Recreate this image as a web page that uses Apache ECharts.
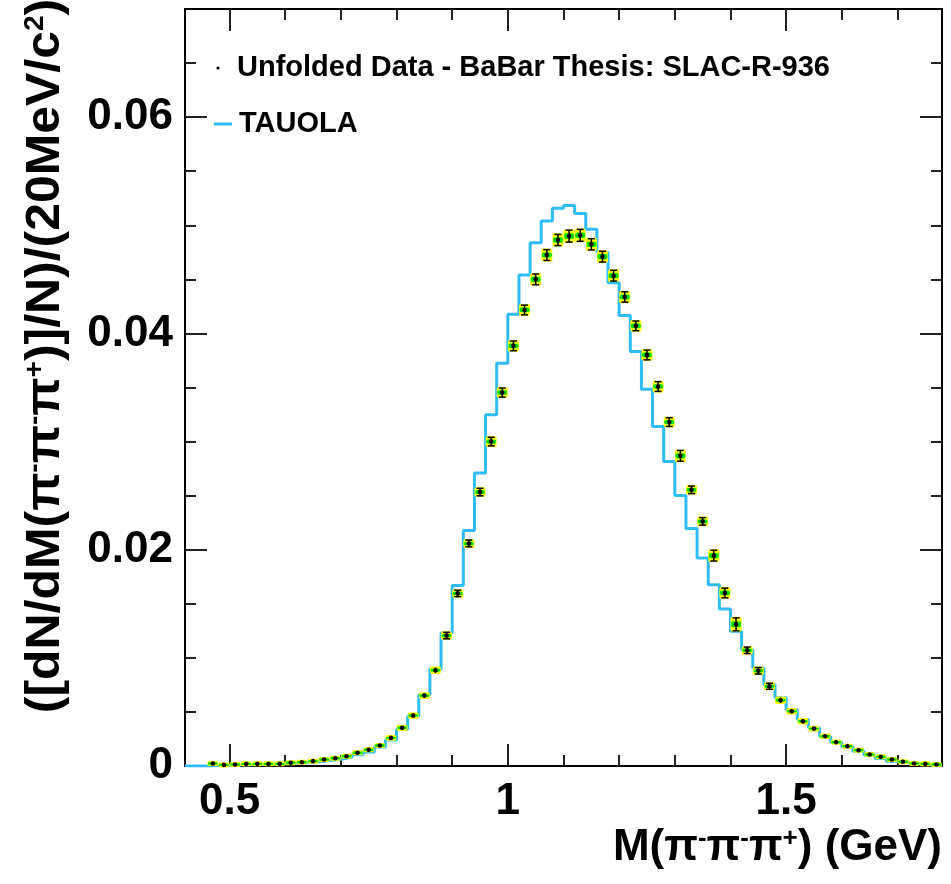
<!DOCTYPE html>
<html>
<head>
<meta charset="utf-8">
<script src="https://cdn.jsdelivr.net/npm/echarts@6/dist/echarts.min.js"></script>
<style>
  html, body { margin: 0; padding: 0; background: #fff; }
  #main { width: 951px; height: 884px; }
</style>
</head>
<body>
<div id="main"></div>
<script>
// unfolded data points (bin centres, 20 MeV bins)
var dataMass = [0.47,0.49,0.51,0.53,0.55,0.57,0.59,0.61,0.63,0.65,0.67,0.69,0.71,0.73,0.75,0.77,
  0.79,0.81,0.83,0.85,0.87,0.89,0.91,0.93,0.95,0.97,0.99,1.01,1.03,1.05,1.07,1.09,1.11,1.13,1.15,
  1.17,1.19,1.21,1.23,1.25,1.27,1.29,1.31,1.33,1.35,1.37,1.39,1.41,1.43,1.45,1.47,1.49,1.51,1.53,
  1.55,1.57,1.59,1.61,1.63,1.65,1.67,1.69,1.71,1.73,1.75,1.77];
var dataValues = [0.00023,0.00010,0.00014,0.00020,0.00020,0.00020,0.00020,0.00030,0.00035,0.00045,
  0.00060,0.00072,0.00090,0.00122,0.00150,0.00190,0.00260,0.00353,0.00467,0.00651,0.00885,0.01206,
  0.01596,0.02058,0.02533,0.03000,0.03453,0.03885,0.04217,0.04500,0.04725,0.04864,0.04900,0.04907,
  0.04824,0.04710,0.04534,0.04337,0.04070,0.03801,0.03509,0.03180,0.02868,0.02554,0.02262,0.01945,
  0.01600,0.01310,0.01070,0.00880,0.00737,0.00608,0.00506,0.00414,0.00346,0.00275,0.00220,0.00183,
  0.00146,0.00106,0.00085,0.00060,0.00039,0.00023,0.00020,0.00014];
var dataErrors = [0.0001,0.0001,0.0001,0.0001,0.0001,0.0001,0.0001,0.0001,0.0001,0.0001,0.0001,
  0.0001,0.0001,0.0001,0.0001,0.0001,0.00018,0.0002,0.0002,0.00022,0.00025,0.0003,0.0003,0.00032,
  0.00035,0.0004,0.00042,0.00045,0.00045,0.0005,0.0005,0.00052,0.00055,0.00055,0.00052,0.0005,
  0.0005,0.00048,0.00045,0.00045,0.00045,0.0004,0.0005,0.00035,0.00035,0.0005,0.00045,0.0006,
  0.0003,0.0003,0.00028,0.00025,0.0002,0.0002,0.00018,0.00016,0.00015,0.00014,0.00012,0.0001,
  0.0001,0.0001,0.0001,0.0001,0.0001,0.0001];

// TAUOLA histogram (lower bin edges)
var tauolaEdges = [0.42,0.44,0.46,0.48,0.50,0.52,0.54,0.56,0.58,0.60,0.62,0.64,0.66,0.68,0.70,
  0.72,0.74,0.76,0.78,0.80,0.82,0.84,0.86,0.88,0.90,0.92,0.94,0.96,0.98,1.00,1.02,1.04,1.06,1.08,
  1.10,1.12,1.14,1.16,1.18,1.20,1.22,1.24,1.26,1.28,1.30,1.32,1.34,1.36,1.38,1.40,1.42,1.44,1.46,
  1.48,1.50,1.52,1.54,1.56,1.58,1.60,1.62,1.64,1.66,1.68,1.70,1.72,1.74,1.76];
var tauolaValues = [0,0,0.00005,0.00008,0.0001,0.00012,0.00014,0.00016,0.0002,0.00025,
  0.0003,0.0004,0.0005,0.00062,0.0008,0.00105,0.0013,0.00175,0.0024,0.0034,
  0.0046,0.0066,0.00898,0.0123,0.0167,0.02178,0.02709,0.03247,0.03725,0.04177,
  0.0454,0.04839,0.0504,0.05157,0.05184,0.0511,0.04963,0.0475,0.04469,0.04165,
  0.03832,0.03484,0.03139,0.02816,0.02502,0.02197,0.01923,0.01677,0.01452,0.01245,
  0.01075,0.00907,0.00753,0.0063,0.00522,0.0043,0.00353,0.00275,0.0022,0.00177,
  0.00137,0.001,0.0007,0.00045,0.0003,0.0002,0.00012,0.00008];
var tauolaUpper = 1.78;

// axis ticks
var xMin = 0.42, xMax = 1.78, yMin = 0, yMax = 0.07;
var xMajor = [0.5, 1, 1.5];
var xMinor = [0.5,0.6,0.7,0.8,0.9,1.0,1.1,1.2,1.3,1.4,1.5,1.6,1.7];
var yMajor = [0, 0.02, 0.04, 0.06];
var yMinor = [0.005,0.01,0.015,0.02,0.025,0.03,0.035,0.04,0.045,0.05,0.055,0.06,0.065];

var FONT = 'Liberation Sans, Arial, sans-serif';
var BLUE = '#2ebcf7';

var myChart = echarts.init(document.getElementById('main'));

var tauolaLine = tauolaEdges.map(function (e, i) { return [e, tauolaValues[i]]; });
tauolaLine.push([tauolaUpper, tauolaValues[tauolaValues.length - 1]]);

var points = dataMass.map(function (m, i) { return [m, dataValues[i], dataErrors[i]]; });

function tickAxis(pos, vals, len, isX, extra) {
    var a = {
        type: 'value', position: pos,
        min: isX ? xMin : yMin, max: isX ? xMax : yMax,
        splitLine: { show: false },
        axisLine: { show: true, onZero: false, lineStyle: { color: '#000', width: 2 } },
        axisTick: { show: true, inside: true, length: len, customValues: vals,
            lineStyle: { color: '#222', width: 2 } },
        axisLabel: { show: false }
    };
    return Object.assign(a, extra || {});
}

function renderPoint(params, api) {
    var x = api.value(0), y = api.value(1), e = api.value(2);
    var c = api.coord([x, y]);
    var top = api.coord([x, y + e])[1];
    var bot = api.coord([x, y - e])[1];
    var half = Math.max((bot - top) / 2, 1.5);
    var box = Math.max(half + 1, 2.5);
    return {
        type: 'group',
        children: [
            { type: 'rect', shape: { x: c[0] - 5.5, y: c[1] - box, width: 11, height: box * 2, r: 2 },
              style: { fill: '#ffff00' } },
            { type: 'rect', shape: { x: c[0] - 5, y: c[1] - Math.max(box * 0.4, 1.2), width: 10, height: Math.max(box * 0.8, 2.4), r: 2 },
              style: { fill: '#00e000' } },
            { type: 'line', shape: { x1: c[0], y1: top, x2: c[0], y2: bot }, style: { stroke: '#000', lineWidth: 1.5 } },
            { type: 'line', shape: { x1: c[0] - 3.5, y1: top, x2: c[0] + 3.5, y2: top }, style: { stroke: '#000', lineWidth: 1.5 }, invisible: half < 3 },
            { type: 'line', shape: { x1: c[0] - 3.5, y1: bot, x2: c[0] + 3.5, y2: bot }, style: { stroke: '#000', lineWidth: 1.5 }, invisible: half < 3 },
            { type: 'circle', shape: { cx: c[0], cy: c[1], r: 2.3 }, style: { fill: '#000' } }
        ]
    };
}

var option = {
    animation: false,
    backgroundColor: '#fff',
    grid: { left: 185, right: 9, top: 9, bottom: 118 },
    xAxis: [
        tickAxis('bottom', xMajor, 22, true, {
            axisLabel: { show: true, customValues: xMajor, margin: 14, color: '#000',
                fontFamily: FONT, fontWeight: 'bold', fontSize: 44,
                formatter: function (v) { return String(v); } }
        }),
        tickAxis('bottom', xMinor, 11, true),
        tickAxis('top', xMajor, 22, true),
        tickAxis('top', xMinor, 11, true)
    ],
    yAxis: [
        tickAxis('left', yMajor, 22, false, {
            axisLabel: { show: true, customValues: yMajor, margin: 12, color: '#000',
                fontFamily: FONT, fontWeight: 'bold', fontSize: 44,
                formatter: function (v) { return v === 0 ? '0' : v.toFixed(2); } }
        }),
        tickAxis('left', yMinor, 11, false),
        tickAxis('right', yMajor, 22, false),
        tickAxis('right', yMinor, 11, false)
    ],
    series: [
        {
            name: 'TAUOLA', type: 'line', step: 'end', data: tauolaLine,
            showSymbol: false, z: 2,
            lineStyle: { color: BLUE, width: 3 }
        },
        {
            name: 'Unfolded Data - BaBar Thesis: SLAC-R-936', type: 'custom',
            data: points, renderItem: renderPoint, z: 3,
            encode: { x: 0, y: 1 }
        }
    ],
    graphic: [
        { type: 'circle', shape: { cx: 218, cy: 68, r: 1.6 }, style: { fill: '#000' } },
        { type: 'text', x: 237, y: 68, style: { text: 'Unfolded Data - BaBar Thesis: SLAC-R-936',
            fontFamily: FONT, fontWeight: 'bold', fontSize: 29, fill: '#000', verticalAlign: 'middle' } },
        { type: 'line', shape: { x1: 214, y1: 124, x2: 232, y2: 124 }, style: { stroke: BLUE, lineWidth: 3 } },
        { type: 'text', x: 239, y: 124, style: { text: 'TAUOLA',
            fontFamily: FONT, fontWeight: 'bold', fontSize: 29, fill: '#000', verticalAlign: 'middle' } },
        { type: 'text', x: 46, y: 356, rotation: Math.PI / 2, scaleX: 1.04,
          style: { text: '{a|([dN/dM(π}{s|-}{a|π}{s|-}{a|π}{s|+}{a|)]/N)/(20MeV/c}{s|2}{a|)}',
            align: 'center', verticalAlign: 'middle', fill: '#000',
            rich: {
                a: { fontFamily: FONT, fontWeight: 'bold', fontSize: 48, fill: '#000' },
                s: { fontFamily: FONT, fontWeight: 'bold', fontSize: 27, fill: '#000', verticalAlign: 'top' }
            } } },
        { type: 'text', x: 942, y: 848,
          style: { text: '{a|M(π}{s|-}{a|π}{s|-}{a|π}{s|+}{a|) (GeV)}',
            align: 'right', verticalAlign: 'middle', fill: '#000',
            rich: {
                a: { fontFamily: FONT, fontWeight: 'bold', fontSize: 44, fill: '#000' },
                s: { fontFamily: FONT, fontWeight: 'bold', fontSize: 26, fill: '#000', verticalAlign: 'top' }
            } } }
    ]
};

myChart.setOption(option);
</script>
</body>
</html>
